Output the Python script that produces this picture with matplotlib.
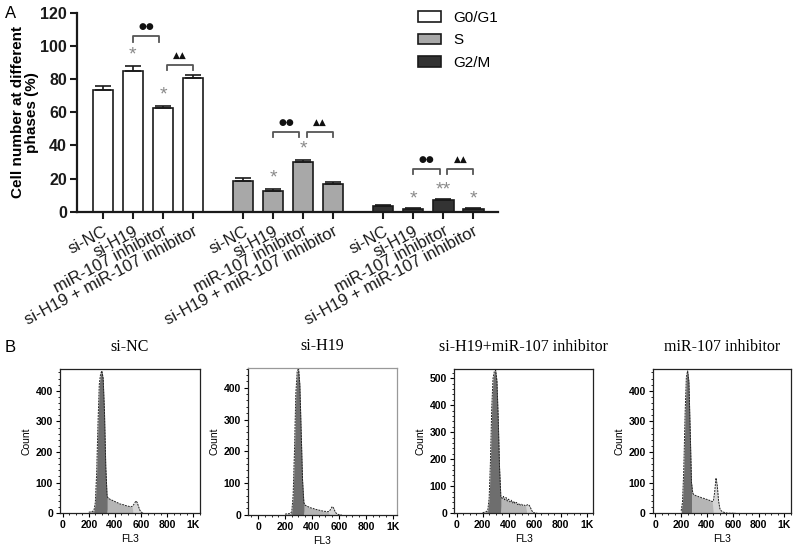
import numpy as np
import matplotlib
matplotlib.use("Agg")
import matplotlib.pyplot as plt
from matplotlib.patches import Patch
from matplotlib.ticker import MultipleLocator, FixedLocator

plt.rcParams['font.family'] = ['Liberation Sans', 'DejaVu Sans']

# ---- panel A data ----
groups = ["si-NC", "si-H19", "miR-107 inhibitor", "si-H19 + miR-107 inhibitor"]
phases = ["G0/G1", "S", "G2/M"]
phase_colors = ["#ffffff", "#a8a8a8", "#333333"]
g0g1 = [73.5, 85.0, 62.5, 80.5]
g0g1_err = [2.5, 2.8, 1.2, 1.8]
s_phase = [18.5, 12.3, 30.0, 17.0]
s_err = [1.6, 1.3, 1.0, 1.0]
g2m = [3.3, 1.9, 7.2, 1.9]
g2m_err = [0.5, 0.3, 0.4, 0.3]

# significance marks: (phase index, bar index, text)
stars = [(0, 1, "*"), (0, 2, "*"), (1, 1, "*"), (1, 2, "*"),
         (2, 1, "*"), (2, 2, "**"), (2, 3, "*")]
# brackets: (phase, bar a, bar b, height, symbol)
brackets = [(0, 1, 2, 106, "●●"), (0, 2, 3, 88.7, "▲▲"),
            (1, 1, 2, 48.3, "●●"), (1, 2, 3, 48.3, "▲▲"),
            (2, 1, 2, 26, "●●"), (2, 2, 3, 26, "▲▲")]

# ---- panel B data: FL3 channel 200..620 step 10 ----
fl3 = np.arange(200, 630, 10)
hist_titles = ["si-NC", "si-H19", "si-H19+miR-107 inhibitor", "miR-107 inhibitor"]
count_si_nc = [3, 4, 5, 6, 10, 35, 130, 290, 420, 455, 465, 440, 330, 150, 55, 48, 46, 44, 42, 40,
               38, 36, 34, 32, 30, 29, 28, 27, 25, 24, 23, 22, 21, 22, 26, 32, 40, 35, 22, 10, 4, 1, 0]
count_si_h19 = [2, 3, 3, 4, 5, 10, 60, 200, 380, 450, 462, 410, 260, 110, 38, 30, 28, 26, 24, 22,
                21, 20, 18, 17, 16, 15, 14, 13, 12, 11, 11, 10, 10, 12, 18, 26, 22, 12, 5, 2, 1, 0, 0]
count_combo = [2, 3, 4, 6, 12, 55, 190, 390, 500, 525, 530, 490, 350, 170, 62, 55, 62, 50, 58, 45,
               52, 42, 48, 38, 44, 35, 40, 32, 36, 30, 33, 28, 30, 27, 30, 32, 28, 18, 8, 3, 1, 0, 0]
count_mir = [8, 35, 140, 320, 445, 465, 430, 270, 100, 65, 60, 58, 56, 55, 53, 52, 50, 49, 48, 46,
             45, 43, 42, 40, 38, 40, 70, 115, 90, 40, 15, 8, 5, 3, 2, 1, 0, 0, 0, 0, 0, 0, 0]
hist_counts = [count_si_nc, count_si_h19, count_combo, count_mir]
# phase gates (G1 start, G1 end / S start, G2 start)
gates = [(240, 340, 540), (250, 340, 530), (240, 340, 540), (200, 280, 450)]
hist_ymax = [470, 463, 533, 470]

fig = plt.figure(figsize=(8, 5.53), dpi=100)

# ================= panel A =================
ax = fig.add_axes([0.096, 0.617, 0.527, 0.36])
vals = [g0g1, s_phase, g2m]
errs = [g0g1_err, s_err, g2m_err]
gap = 4.67
bw = 0.67
for p in range(3):
    x = np.arange(4) + p * gap
    ax.bar(x, vals[p], width=bw, color=phase_colors[p], edgecolor="#1a1a1a", linewidth=1.2, zorder=2)
    ax.errorbar(x, vals[p], yerr=[np.zeros(4), errs[p]], fmt="none", ecolor="#1a1a1a",
                elinewidth=1.2, capsize=6, capthick=1.2, zorder=3)

for p, i, t in stars:
    x = i + p * gap
    y = vals[p][i] + errs[p][i] + (7 if vals[p][i] > 10 else 5.5)
    ax.text(x, y, t, ha="center", va="center", color="#8a8a8a", fontsize=14)

for p, a, b, h, sym in brackets:
    xa = a + p * gap + (0.13 if sym == "▲▲" else 0)
    xb = b + p * gap - (0.13 if sym == "●●" else 0)
    ax.plot([xa, xa, xb, xb], [h - 3.5, h, h, h - 3.5], color="#555555", lw=1.3, zorder=2)
    ax.text((xa + xb) / 2, h + 5.5, sym, ha="center", va="center", fontsize=6.5,
            color="#111111", family=["DejaVu Sans"])

ax.set_xlim(-0.87, 13.17)
ax.set_ylim(0, 120)
ax.set_yticks(np.arange(0, 121, 20))
ax.set_xticks([i + p * gap for p in range(3) for i in range(4)])
ax.set_xticklabels(groups * 3, rotation=28, ha="right", rotation_mode="anchor", fontsize=12)
for lab in ax.get_yticklabels():
    lab.set_fontweight("bold")
    lab.set_fontsize(11.5)
ax.tick_params(axis="both", direction="out", width=1.5, length=5, colors="#1a1a1a")
ax.tick_params(axis="y", pad=2)
for s in ["top", "right"]:
    ax.spines[s].set_visible(False)
for s in ["left", "bottom"]:
    ax.spines[s].set_linewidth(1.6)
    ax.spines[s].set_color("#1a1a1a")
ax.set_ylabel("Cell number at different\nphases (%)", fontsize=11, fontweight="bold",
              labelpad=1, linespacing=1.0)

handles = [Patch(facecolor=c, edgecolor="#1a1a1a", linewidth=1.2, label=l)
           for c, l in zip(phase_colors, phases)]
fig.legend(handles=handles, loc="upper left", bbox_to_anchor=(0.505, 1.005), frameon=False,
           fontsize=11, handlelength=1.5, handleheight=0.7, handletextpad=0.8, labelspacing=0.55)

fig.text(0.006, 0.99, "A", fontsize=12, va="top")
fig.text(0.006, 0.385, "B", fontsize=12, va="top")

# ================= panel B =================
positions = [[0.075, 0.072, 0.175, 0.26], [0.31, 0.069, 0.186, 0.266],
             [0.5675, 0.072, 0.174, 0.26], [0.816, 0.072, 0.1725, 0.26]]
for k in range(4):
    hx = fig.add_axes(positions[k])
    c = np.array(hist_counts[k], dtype=float)
    g1a, g1b, g2a = gates[k]
    hx.fill_between(fl3, c, where=(fl3 >= g1a) & (fl3 <= g1b), color="#6e6e6e", lw=0, interpolate=True)
    hx.fill_between(fl3, c, where=(fl3 >= g1b) & (fl3 <= g2a), color="#b5b5b5", lw=0, interpolate=True)
    hx.fill_between(fl3, c, where=(fl3 >= g2a), color="#d6d6d6", lw=0, interpolate=True)
    hx.fill_between(fl3, c, where=(fl3 <= g1a), color="#9a9a9a", lw=0, interpolate=True)
    hx.plot(fl3, c, color="#222222", lw=0.7, ls=(0, (2, 1)))
    hx.set_xlim(-20 if k != 1 else -75, 1050 if k != 1 else 1030)
    hx.set_ylim(0, hist_ymax[k])
    hx.xaxis.set_major_locator(FixedLocator([0, 200, 400, 600, 800, 1000]))
    hx.set_xticklabels(["0", "200", "400", "600", "800", "1K"])
    hx.xaxis.set_minor_locator(MultipleLocator(50))
    hx.yaxis.set_major_locator(MultipleLocator(100))
    hx.yaxis.set_minor_locator(MultipleLocator(20))
    hx.tick_params(which="major", length=3, width=0.8, labelsize=7.5, pad=2)
    hx.tick_params(which="minor", length=1.5, width=0.6)
    for lab in hx.get_xticklabels() + hx.get_yticklabels():
        lab.set_fontweight("bold")
    frame_col = "#999999" if k == 1 else "#222222"
    for s in hx.spines.values():
        s.set_color(frame_col)
        s.set_linewidth(0.9)
    hx.spines["left"].set_color("#222222")
    hx.spines["bottom"].set_color("#222222")
    hx.set_xlabel("FL3", fontsize=7.5, labelpad=3)
    hx.set_ylabel("Count", fontsize=7.5, labelpad=3)
    hx.set_title(hist_titles[k], fontsize=11.5, family=["Liberation Serif"], pad=13)

fig.savefig("out.png", dpi=100)
